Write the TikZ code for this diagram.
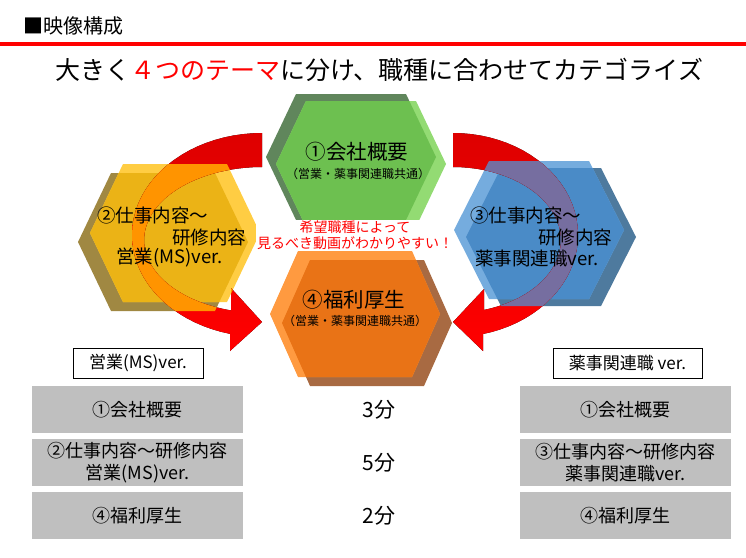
\documentclass[tikz,border=0pt]{standalone}
\usepackage{fontspec}
\setmainfont{Noto Sans CJK JP}

\definecolor{grnDark}{RGB}{96,134,92}
\definecolor{grnLight}{RGB}{147,219,115}
\definecolor{grnMid}{RGB}{109,192,80}
\definecolor{orgDark}{RGB}{168,106,66}
\definecolor{orgLight}{RGB}{255,154,64}
\definecolor{orgMid}{RGB}{233,115,22}
\definecolor{ylwDark}{RGB}{160,136,66}
\definecolor{ylwLight}{RGB}{255,205,67}
\definecolor{ylwMid}{RGB}{235,179,22}
\definecolor{ylwMix}{RGB}{255,148,0}
\definecolor{bluDark}{RGB}{78,122,158}
\definecolor{bluLight}{RGB}{117,172,222}
\definecolor{bluMid}{RGB}{74,139,199}
\definecolor{bluMix}{RGB}{118,110,160}
\definecolor{arrowTop}{RGB}{222,0,0}
\definecolor{arrowBot}{RGB}{255,0,0}
\definecolor{boxGray}{RGB}{191,191,191}

\newcommand{\hexat}[4]{({#1-85},{#2}) -- ({#1-85+#4},{#2-#3}) -- ({#1+85-#4},{#2-#3})
  -- ({#1+85},{#2}) -- ({#1+85-#4},{#2+#3}) -- ({#1-85+#4},{#2+#3}) -- cycle}
\newcommand{\hexcell}[9]{%
  \fill[#8] \hexat{#3}{#4}{#5}{#6};
  \fill[#7] \hexat{#1}{#2}{#5}{#6};
  \begin{scope}
    \clip \hexat{#3}{#4}{#5}{#6};
    \fill[#9] \hexat{#1}{#2}{#5}{#6};
  \end{scope}}
\newcommand{\leftsweep}{plot[domain=90:255.8,samples=40] ({262+130*cos(\x)},{235-102*sin(\x)})
  -- (230,351) -- (262,322) -- (231,288)
  -- plot[domain=254.8:90,samples=40] ({262+118*cos(\x)},{240-73*sin(\x)}) -- cycle}
\newcommand{\rightsweep}{plot[domain=90:-76.1,samples=40] ({453+125*cos(\x)},{235-102*sin(\x)})
  -- (483,351) -- (453,322) -- (484,289)
  -- plot[domain=-73.3:90,samples=40] ({453+108*cos(\x)},{240-73*sin(\x)}) -- cycle}

\begin{document}
\begin{tikzpicture}[x=1pt, y=-1pt,
  capt/.style={inner sep=0pt, font=\fontsize{20.5}{24}\selectfont},
  subc/.style={inner sep=0pt, font=\fontsize{12}{14}\selectfont},
  side/.style={inner sep=0pt, anchor=west, font=\fontsize{18.5}{22}\selectfont},
  row/.style={fill=boxGray, minimum width=211pt, minimum height=47pt, inner sep=0pt,
    align=center, font=\fontsize{18}{22}\selectfont},
  tag/.style={draw=black, line width=0.8pt, minimum height=30pt, inner sep=0pt,
    font=\fontsize{17}{20}\selectfont},
  mins/.style={inner sep=0pt, font=\fontsize{21}{24}\selectfont}]
\useasboundingbox (0,0) rectangle (746,557);

\node[anchor=west, inner sep=0pt, font=\fontsize{20}{22}\selectfont] (head) at (23,26) {■映像構成};
\fill[red] (0,42) rectangle (746,46);
\node[inner sep=0pt, font=\fontsize{25}{30}\selectfont] (title) at (379,70)
  {大きく\textcolor{red}{４つのテーマ}に分け、職種に合わせてカテゴライズ};

% hexagons
\hexcell{361}{164}{351}{157}{63}{30}{grnLight}{grnDark}{grnMid}
\hexcell{355}{314}{367}{323}{63}{28}{orgLight}{orgDark}{orgMid}
\hexcell{175}{233}{163}{242}{69}{33}{ylwLight}{ylwDark}{ylwMid}
\hexcell{539}{230}{551}{237}{69}{35}{bluLight}{bluDark}{bluMid}

% arrows
\fill[top color=arrowTop, bottom color=arrowBot] \leftsweep;
\fill[top color=arrowTop, bottom color=arrowBot] \rightsweep;
\begin{scope}
  \clip \hexat{175}{233}{69}{33} \hexat{163}{242}{69}{33};
  \fill[ylwMix] \leftsweep;
\end{scope}
\begin{scope}
  \clip \hexat{539}{230}{69}{35} \hexat{551}{237}{69}{35};
  \fill[bluMix] \rightsweep;
\end{scope}

\node[fill=white, text=red, align=center, inner sep=1pt,
  font=\fontsize{14}{16}\selectfont] (hint) at (355,235) {希望職種によって\\見るべき動画がわかりやすい！};

\node[capt] (cap1) at (357,152) {①会社概要};
\node[subc] (sub1) at (358,174) {（営業・薬事関連職共通）};
\node[capt] (cap4) at (354,300) {④福利厚生};
\node[subc] (sub4) at (355,321) {（営業・薬事関連職共通）};
\node[side] (cap2a) at (97,215) {②仕事内容～};
\node[side] (cap2b) at (172,237) {研修内容};
\node[side] (cap2c) at (116,258) {営業(MS)ver.};
\node[side] (cap3a) at (470,215) {③仕事内容～};
\node[side] (cap3b) at (538,237) {研修内容};
\node[side] (cap3c) at (475,258) {薬事関連職ver.};

% schedule
\node[tag, minimum width=130pt] (tagS) at (138,363) {営業(MS)ver.};
\node[tag, minimum width=149pt] (tagY) at (627.5,363) {薬事関連職 ver.};
\node[row] (s1) at (137.5,409.5) {①会社概要};
\node[row] (s2) at (137.5,462.5) {②仕事内容～研修内容\\営業(MS)ver.};
\node[row] (s3) at (137.5,515.5) {④福利厚生};
\node[row] (y1) at (625.5,409.5) {①会社概要};
\node[row] (y2) at (625.5,462.5) {③仕事内容～研修内容\\薬事関連職ver.};
\node[row] (y3) at (625.5,515.5) {④福利厚生};
\node[mins] (m1) at (379,409.5) {3分};
\node[mins] (m2) at (379,462.5) {5分};
\node[mins] (m3) at (379,515.5) {2分};
\end{tikzpicture}
\end{document}
